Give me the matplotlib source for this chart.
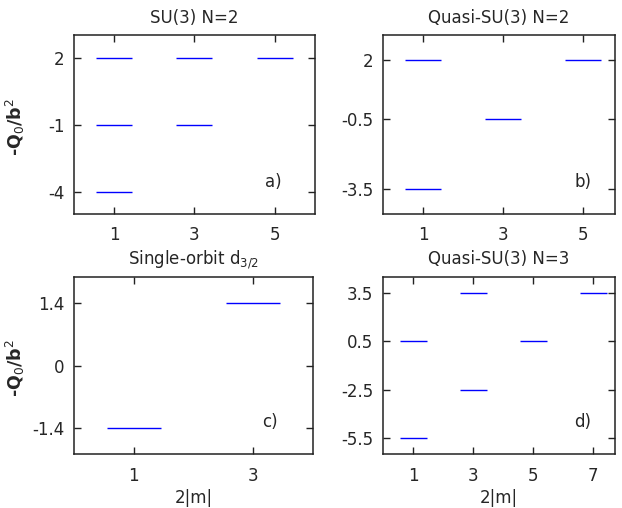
import matplotlib
matplotlib.use('Agg')
import matplotlib.pyplot as plt

# data: (2|m|, -Q0/b^2) levels per panel
su3_n2_x = [1, 1, 1, 3, 3, 5]
su3_n2_y = [2, -1, -4, 2, -1, 2]

qsu3_n2_x = [1, 1, 3, 5]
qsu3_n2_y = [2, -3.5, -0.5, 2]

single_x = [1, 3]
single_y = [-1.4, 1.4]

qsu3_n3_x = [1, 1, 3, 3, 5, 7]
qsu3_n3_y = [0.5, -5.5, 3.5, -2.5, 0.5, 3.5]

plt.rcParams['font.family'] = 'DejaVu Sans'
plt.rcParams['font.size'] = 12

fig = plt.figure(figsize=(6.22, 5.08), dpi=100)

panels = [
    # rect, x, y, title, xticks, yticks, ytick labels, xlim, ylim, tag, tag x, ylabel, xlabel
    ([0.119, 0.579, 0.387, 0.352], su3_n2_x, su3_n2_y, 'SU(3) N=2',
     [1, 3, 5], [2, -1, -4], ['2', '-1', '-4'], (0, 6), (-5, 3.03), 'a)', 0.83, True, False),
    ([0.616, 0.579, 0.373, 0.352], qsu3_n2_x, qsu3_n2_y, 'Quasi-SU(3) N=2',
     [1, 3, 5], [2, -0.5, -3.5], ['2', '-0.5', '-3.5'], (0, 5.8), (-4.57, 3.07), 'b)', 0.86, False, False),
    ([0.119, 0.106, 0.384, 0.349], single_x, single_y, 'Single-orbit d$_{3/2}$',
     [1, 3], [1.4, 0, -1.4], ['1.4', '0', '-1.4'], (0, 4), (-2, 2), 'c)', 0.82, True, True),
    ([0.616, 0.106, 0.373, 0.349], qsu3_n3_x, qsu3_n3_y, 'Quasi-SU(3) N=3',
     [1, 3, 5, 7], [3.5, 0.5, -2.5, -5.5], ['3.5', '0.5', '-2.5', '-5.5'], (0, 7.73), (-6.5, 4.5), 'd)', 0.86, False, True),
]

txt = '#262626'
half = 0.45
for rect, xs, ys, title, xt, yt, ytl, xl, yl, tag, tag_x, has_ylab, has_xlab in panels:
    ax = fig.add_axes(rect)
    ax.hlines(ys, [x - half for x in xs], [x + half for x in xs], color='#0000ff', lw=1.0)
    ax.set_xlim(*xl)
    ax.set_ylim(*yl)
    ax.set_xticks(xt)
    ax.set_xticklabels([str(v) for v in xt])
    ax.set_yticks(yt)
    ax.set_yticklabels(ytl)
    ax.tick_params(direction='in', top=True, right=True, length=5, width=1.0,
                   color='#222222', labelcolor=txt)
    ax.tick_params(axis='y', pad=7)
    ax.tick_params(axis='x', pad=9)
    for s in ax.spines.values():
        s.set_linewidth(1.1)
        s.set_color('#222222')
    ax.set_title(title, fontsize=12, color=txt, pad=9)
    ax.text(tag_x, 0.18, tag, transform=ax.transAxes, fontsize=12, color=txt,
            ha='center', va='center')
    if has_ylab:
        fig.text(15 / 622, rect[1] + rect[3] / 2 - 0.005, '-Q$_0$/b$^2$', rotation=90,
                 ha='center', va='center', fontsize=12.5, fontweight='bold', color=txt)
    if has_xlab:
        ax.set_xlabel('2|m|', fontsize=12, color=txt, labelpad=3)

fig.savefig('out.png', dpi=100)
